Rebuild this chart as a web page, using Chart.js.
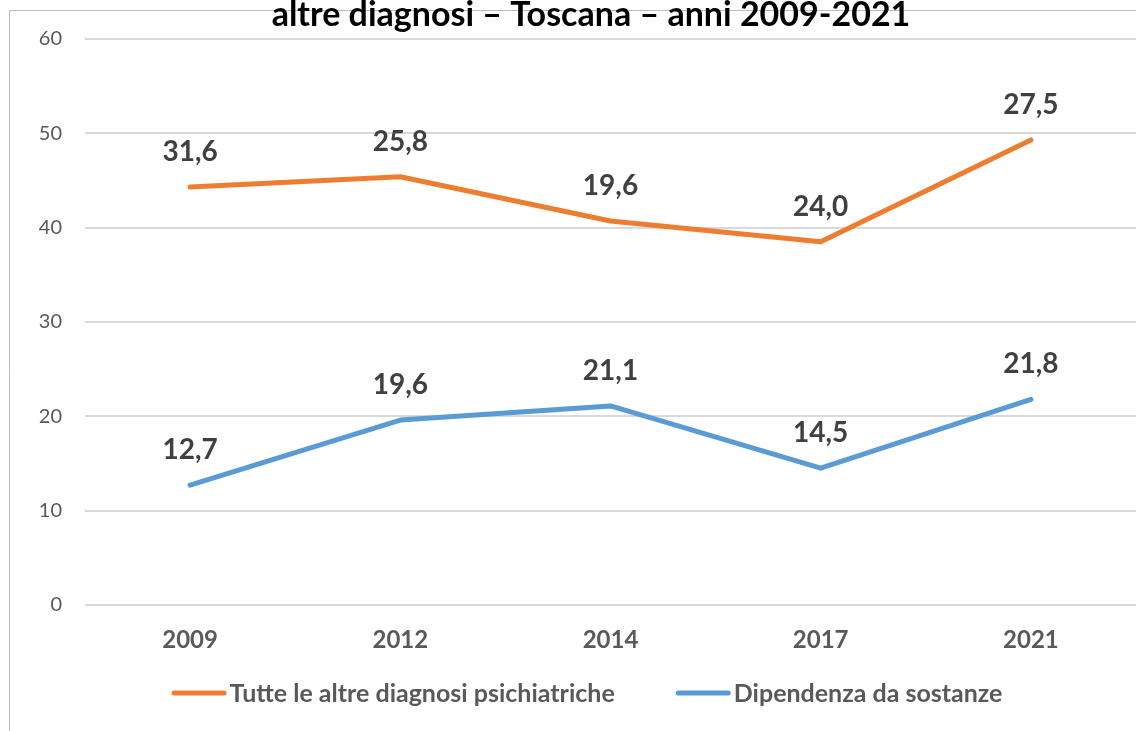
<!DOCTYPE html>
<html>
<head>
<meta charset="utf-8">
<script src="https://cdn.jsdelivr.net/npm/chart.js@4/dist/chart.umd.min.js"></script>
<style>
  html, body { margin: 0; padding: 0; background: #ffffff; }
  #wrap { width: 1136px; height: 731px; position: relative; }
</style>
</head>
<body>
<div id="wrap"><canvas id="c" width="1136" height="731"></canvas></div>
<script>
const titleText = 'altre diagnosi \u2013 Toscana \u2013 anni 2009-2021';
const categories = ['2009', '2012', '2014', '2017', '2021'];
const seriesNames = ['Dipendenza da sostanze', 'Tutte le altre diagnosi psichiatriche'];
const dipendenza = [12.7, 19.6, 21.1, 14.5, 21.8];
const altreDiagnosi = [31.6, 25.8, 19.6, 24.0, 27.5];
const yTicks = [0, 10, 20, 30, 40, 50, 60];

const FONT = 'Lato, "Open Sans", "DejaVu Sans", sans-serif';

const framePlugin = {
  id: 'frame',
  beforeDraw(chart) {
    const ctx = chart.ctx;
    ctx.save();
    ctx.strokeStyle = '#bcbcbc';
    ctx.lineWidth = 1;
    ctx.beginPath();
    ctx.moveTo(9.5, chart.height);
    ctx.lineTo(9.5, 10.5);
    ctx.lineTo(chart.width, 10.5);
    ctx.stroke();
    ctx.restore();
  },
  afterDraw(chart) {
    const ctx = chart.ctx;
    ctx.save();
    // title
    ctx.fillStyle = '#000000';
    ctx.font = 'bold 34px ' + FONT;
    ctx.textAlign = 'center';
    ctx.textBaseline = 'alphabetic';
    ctx.fillText(titleText, 591, 26);

    // legend (orange series first, then blue)
    const items = chart.data.datasets.slice().reverse();
    ctx.font = 'bold 25px ' + FONT;
    ctx.textAlign = 'left';
    ctx.textBaseline = 'middle';
    const lineLen = 55, textGap = 3, itemGap = 61, cy = 693;
    const widths = items.map(ds => lineLen + textGap + ctx.measureText(ds.label).width);
    const total = widths.reduce((a, b) => a + b, 0) + itemGap * (items.length - 1);
    let x = 587 - total / 2;
    items.forEach((ds, i) => {
      ctx.strokeStyle = ds.borderColor;
      ctx.lineWidth = 5;
      ctx.lineCap = 'round';
      ctx.beginPath();
      ctx.moveTo(x + 2.5, cy);
      ctx.lineTo(x + lineLen - 2.5, cy);
      ctx.stroke();
      ctx.fillStyle = '#595959';
      ctx.fillText(ds.label, x + lineLen + textGap, cy + 1);
      x += widths[i] + itemGap;
    });
    ctx.restore();
  }
};

const labelPlugin = {
  id: 'valueLabels',
  afterDatasetsDraw(chart) {
    const ctx = chart.ctx;
    ctx.save();
    ctx.fillStyle = '#404040';
    ctx.font = 'bold 28px ' + FONT;
    ctx.textAlign = 'center';
    ctx.textBaseline = 'alphabetic';
    chart.data.datasets.forEach((ds, di) => {
      const meta = chart.getDatasetMeta(di);
      meta.data.forEach((pt, i) => {
        const txt = ds.data[i].toFixed(1).replace('.', ',');
        ctx.fillText(txt, pt.x, pt.y - 26);
      });
    });
    ctx.restore();
  }
};

new Chart(document.getElementById('c'), {
  type: 'line',
  data: {
    labels: categories,
    datasets: [
      {
        label: seriesNames[0],
        data: dipendenza,
        borderColor: '#5B9BD5',
        backgroundColor: '#5B9BD5',
        borderWidth: 5,
        borderCapStyle: 'round',
        borderJoinStyle: 'round',
        pointRadius: 0,
        pointHoverRadius: 0,
        tension: 0,
        fill: false
      },
      {
        label: seriesNames[1],
        data: altreDiagnosi,
        borderColor: '#ED7D31',
        backgroundColor: '#ED7D31',
        borderWidth: 5,
        borderCapStyle: 'round',
        borderJoinStyle: 'round',
        pointRadius: 0,
        pointHoverRadius: 0,
        tension: 0,
        fill: false
      }
    ]
  },
  options: {
    responsive: false,
    animation: false,
    devicePixelRatio: 1,
    layout: { padding: { top: 39, left: 10, right: 0, bottom: 66 } },
    plugins: {
      title: { display: false },
      tooltip: { enabled: false },
      legend: { display: false }
    },
    scales: {
      x: {
        offset: true,
        grid: { display: false, drawTicks: false },
        border: { display: false },
        ticks: {
          color: '#595959',
          padding: 21,
          font: { family: FONT, size: 24, weight: 'bold' }
        },
        afterFit(scale) { scale.height = 60; }
      },
      y: {
        stacked: true,
        min: 0,
        max: 60,
        afterBuildTicks(scale) { scale.ticks = yTicks.map(v => ({ value: v })); },
        grid: { color: '#d9d9d9', lineWidth: 2, drawTicks: false },
        border: { display: false },
        ticks: {
          color: '#595959',
          padding: 23,
          font: { family: FONT, size: 20 }
        },
        afterFit(scale) { scale.width = 75; }
      }
    }
  },
  plugins: [framePlugin, labelPlugin]
});
</script>
</body>
</html>
